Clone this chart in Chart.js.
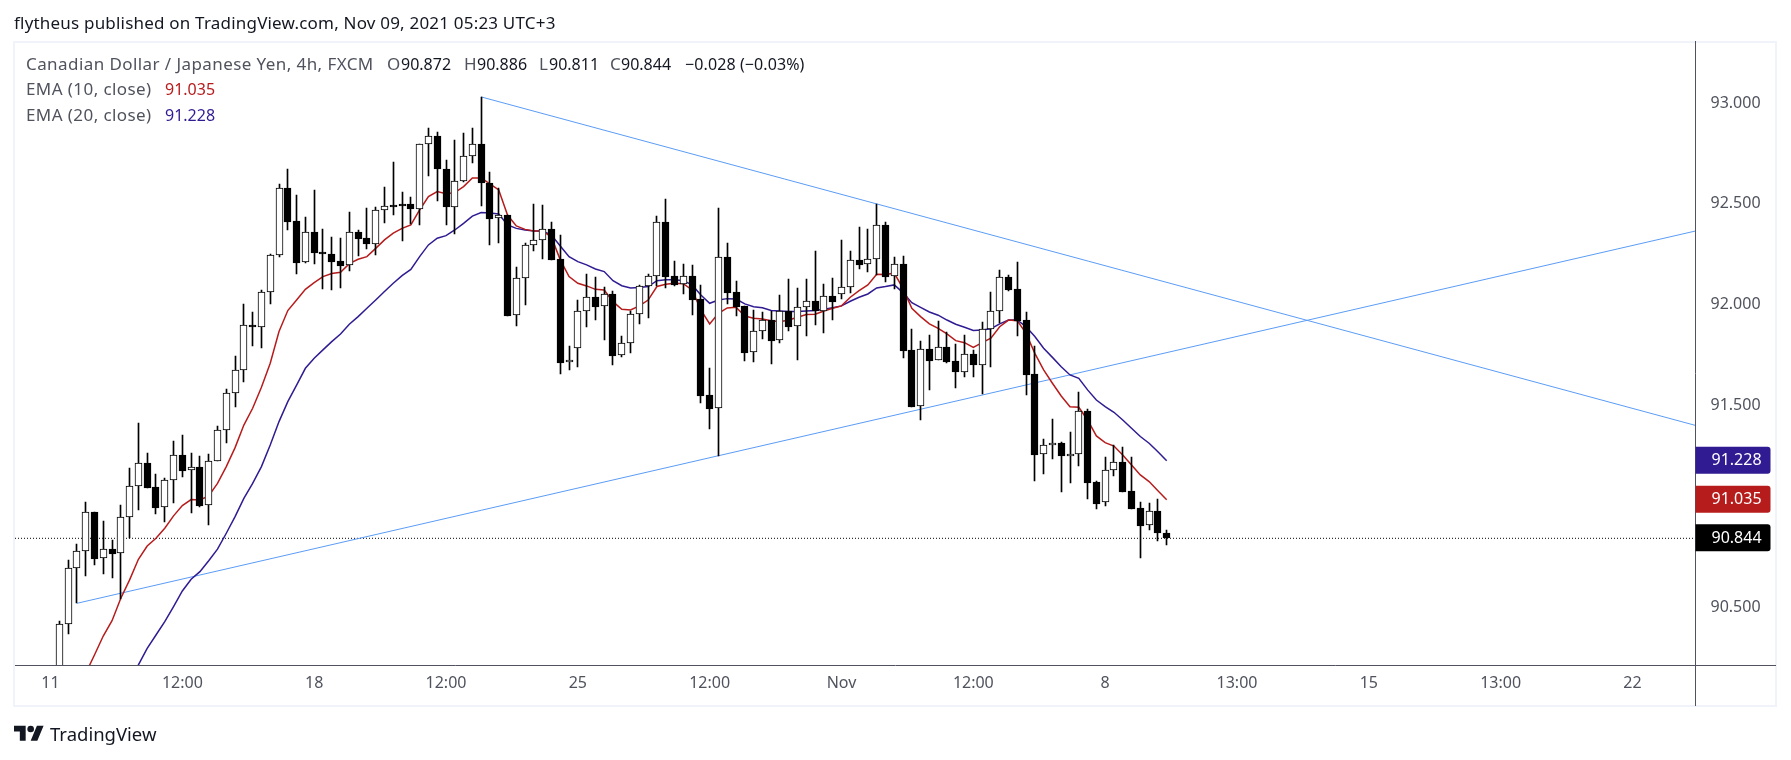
<!DOCTYPE html>
<html>
<head>
<meta charset="utf-8">
<title>CAD/JPY 4h</title>
<script src="https://cdn.jsdelivr.net/npm/chart.js"></script>
<style>
  html, body { margin:0; padding:0; background:#fff; width:1791px; height:760px; overflow:hidden; }
  body { font-family:"Noto Sans", sans-serif; color:#131722; position:relative; }
  #chart { position:absolute; left:0; top:0; }
  .txt { position:absolute; white-space:nowrap; }
  .lbl { font-size:17px; line-height:22px; letter-spacing:.42px; color:#50535e; }
  .val { font-size:16px; line-height:22px; color:#131722; }
</style>
</head>
<body>
<canvas id="chart" width="1791" height="760"></canvas>
<div class="txt" style="left:14px;top:11px;font-size:17px;line-height:24px;letter-spacing:.2px;">flytheus published on TradingView.com, Nov 09, 2021 05:23 UTC+3</div>
<div class="txt lbl" style="left:26px;top:53px;">Canadian Dollar / Japanese Yen, 4h, FXCM</div>
<div class="txt lbl" style="left:387px;top:53px;">O</div><div class="txt val" style="left:401px;top:53px;">90.872</div>
<div class="txt lbl" style="left:464px;top:53px;">H</div><div class="txt val" style="left:477px;top:53px;">90.886</div>
<div class="txt lbl" style="left:539px;top:53px;">L</div><div class="txt val" style="left:549px;top:53px;">90.811</div>
<div class="txt lbl" style="left:610px;top:53px;">C</div><div class="txt val" style="left:621px;top:53px;">90.844</div>
<div class="txt val" style="left:685px;top:53px;letter-spacing:.1px;">−0.028 (−0.03%)</div>
<div class="txt lbl" style="left:26px;top:78px;">EMA (10, close)</div><div class="txt val" style="left:165px;top:78px;color:#b71c1c;">91.035</div>
<div class="txt lbl" style="left:26px;top:104px;">EMA (20, close)</div><div class="txt val" style="left:165px;top:104px;color:#311b92;">91.228</div>
<svg class="txt" style="left:14px;top:722px;" width="30" height="24" viewBox="0 0 36 28" fill="#131722"><path d="M14 22H7V11H0V4h14v18zM28 22h-8l7.5-18h8L28 22z"/><circle cx="20" cy="8" r="4"/></svg>
<div class="txt" style="left:50px;top:720px;font-size:18.5px;line-height:28px;">TradingView</div>

<script>
// 4h candles, one entry per bar
const opens = [90.13,90.418,90.695,90.780,90.973,90.745,90.790,90.770,90.948,91.102,91.215,91.097,90.998,91.131,91.255,91.181,91.196,91.008,91.229,91.379,91.562,91.676,91.899,91.889,92.062,92.246,92.578,
  92.416,92.211,92.360,92.261,92.254,92.216,92.197,92.360,92.330,92.303,92.469,92.493,92.498,92.498,92.474,92.795,92.835,92.675,92.483,92.612,92.736,92.797,92.606,92.429,92.444,91.949,
  92.132,92.295,92.320,92.374,92.227,91.716,91.785,91.968,92.038,91.993,92.053,91.750,91.810,91.953,92.092,92.142,92.409,92.142,92.102,92.142,92.029,91.552,91.488,92.236,92.062,91.993,91.765,91.869,91.924,91.825,
  91.968,91.894,91.988,92.018,91.968,92.043,92.053,92.087,92.221,92.201,92.226,92.394,92.142,92.201,91.775,91.498,91.780,91.726,91.790,91.721,91.666,91.755,91.701,91.882,91.968,92.137,92.077,91.924,91.656,91.260,91.305,91.315,91.250,91.260,91.473,91.121,91.022,91.181,91.220,91.077,90.993,90.908,90.978,90.872];
const highs = [90.435,90.735,90.814,91.024,90.973,90.930,90.834,91.009,91.192,91.415,91.267,91.163,91.141,91.326,91.356,91.267,91.252,91.262,91.400,91.584,91.747,92.005,91.963,92.074,92.251,92.599,92.673,
  92.545,92.436,92.569,92.374,92.337,92.332,92.460,92.371,92.480,92.485,92.584,92.708,92.559,92.535,92.795,92.876,92.855,92.720,92.815,92.852,92.876,93.030,92.658,92.579,92.446,92.186,
  92.307,92.500,92.493,92.409,92.345,91.797,92.024,92.153,92.137,92.087,92.069,91.845,91.968,92.097,92.153,92.441,92.523,92.216,92.201,92.196,92.097,91.686,92.478,92.305,92.117,91.995,91.975,91.967,91.968,92.049,
  92.127,92.082,92.128,92.267,92.104,92.133,92.322,92.267,92.386,92.376,92.498,92.409,92.236,92.241,91.879,91.820,91.851,91.919,91.864,91.807,91.849,91.775,91.914,92.064,92.173,92.147,92.213,91.965,91.797,91.336,91.435,91.319,91.371,91.569,91.483,91.128,91.247,91.305,91.296,91.245,91.022,91.017,91.037,90.886];
const lows = [90.09,90.372,90.522,90.659,90.714,90.669,90.649,90.542,90.844,90.984,91.095,90.966,90.927,91.021,91.149,90.969,91.001,90.912,91.229,91.318,91.496,91.620,91.798,91.788,92.006,92.239,92.373,
  92.155,92.205,92.204,92.081,92.076,92.086,92.168,92.244,92.279,92.249,92.407,92.447,92.318,92.399,92.398,92.639,92.516,92.398,92.353,92.607,92.705,92.492,92.299,92.308,91.947,91.897,
  92.001,92.269,92.229,92.224,91.660,91.679,91.694,91.892,91.925,91.826,91.704,91.742,91.764,91.907,91.937,92.094,92.086,92.094,92.056,91.952,91.514,91.387,91.253,92.005,91.947,91.724,91.719,91.831,91.709,91.813,
  91.873,91.729,91.848,91.902,91.863,91.927,92.031,92.057,92.180,92.165,92.148,92.114,92.081,91.739,91.496,91.432,91.579,91.726,91.714,91.590,91.645,91.645,91.559,91.694,91.909,92.071,91.848,91.556,91.130,91.163,91.239,91.075,91.120,91.204,91.040,90.991,91.006,91.154,91.075,90.991,90.748,90.887,90.832,90.811];
const closes = [90.418,90.695,90.780,90.973,90.743,90.790,90.768,90.948,91.102,91.215,91.095,90.996,91.131,91.255,91.179,91.196,91.006,91.229,91.379,91.562,91.676,91.899,91.889,92.062,92.246,92.578,92.412,
  92.209,92.360,92.259,92.254,92.214,92.195,92.360,92.328,92.303,92.469,92.488,92.487,92.492,92.474,92.795,92.835,92.675,92.483,92.612,92.736,92.795,92.606,92.427,92.444,91.947,92.132,
  92.295,92.320,92.374,92.224,91.714,91.726,91.968,92.038,91.991,92.053,91.749,91.810,91.953,92.092,92.142,92.409,92.140,92.100,92.142,92.026,91.551,91.486,92.236,92.061,91.991,91.764,91.869,91.924,91.823,91.968,
  91.892,91.988,92.018,91.968,92.043,92.016,92.087,92.221,92.199,92.226,92.394,92.140,92.201,91.773,91.496,91.780,91.724,91.790,91.719,91.666,91.755,91.701,91.882,91.968,92.137,92.076,91.922,91.655,91.258,91.305,91.315,91.250,91.260,91.473,91.120,91.016,91.181,91.220,91.075,90.991,90.907,90.978,90.872,90.844];
const ema10 = [89.878,89.977,90.076,90.175,90.266,90.360,90.436,90.547,90.638,90.740,90.806,90.844,90.894,90.955,91.006,91.036,91.034,91.054,91.116,91.199,91.293,91.405,91.488,91.592,91.711,91.868,91.972,
  92.024,92.077,92.110,92.140,92.155,92.162,92.204,92.226,92.239,92.280,92.322,92.355,92.379,92.396,92.470,92.536,92.561,92.551,92.556,92.586,92.629,92.629,92.599,92.569,92.445,92.391,
  92.374,92.366,92.366,92.335,92.223,92.140,92.107,92.094,92.077,92.074,92.016,91.978,91.975,91.995,92.024,92.091,92.102,92.107,92.105,92.074,91.975,91.906,91.958,91.985,91.988,91.945,91.934,91.930,91.922,91.917,
  91.925,91.939,91.952,91.954,91.970,91.983,91.995,92.038,92.071,92.099,92.152,92.150,92.157,92.082,91.983,91.942,91.906,91.884,91.856,91.823,91.813,91.790,91.813,91.835,91.892,91.925,91.922,91.859,91.760,91.678,91.612,91.549,91.496,91.493,91.430,91.351,91.318,91.301,91.257,91.207,91.158,91.125,91.080,91.035];
const ema20 = [89.465,89.548,89.631,89.713,89.796,89.878,89.961,90.043,90.126,90.217,90.299,90.365,90.431,90.506,90.583,90.641,90.679,90.733,90.790,90.869,90.951,91.042,91.116,91.199,91.306,91.422,91.521,
  91.603,91.686,91.736,91.777,91.818,91.856,91.904,91.942,91.983,92.024,92.066,92.107,92.145,92.176,92.239,92.297,92.330,92.343,92.371,92.404,92.440,92.457,92.455,92.450,92.396,92.379,
  92.371,92.366,92.366,92.346,92.292,92.239,92.214,92.198,92.178,92.165,92.120,92.095,92.084,92.086,92.091,92.120,92.124,92.124,92.120,92.099,92.049,92.008,92.024,92.031,92.029,92.005,91.991,91.986,91.972,91.970,
  91.967,91.967,91.970,91.972,91.978,91.986,91.995,92.018,92.038,92.054,92.084,92.091,92.099,92.061,92.011,91.988,91.965,91.949,91.925,91.904,91.889,91.873,91.876,91.882,91.906,91.925,91.925,91.892,91.843,91.785,91.740,91.694,91.653,91.636,91.579,91.529,91.496,91.468,91.430,91.389,91.348,91.315,91.273,91.228];

// hand drawn trend lines: [start bar, end bar] and prices
const trendDownBars = [48, 186.17];
const trendDownPrices = [93.03, 91.403];
const trendUpBars = [2, 186.17];
const trendUpPrices = [90.522, 92.366];

const timeTickBars = [-1,14,29,44,59,74,89,104,119,134,149,164,179];
const timeTickLabels = ['11','12:00','18','12:00','25','12:00','Nov','12:00','8','13:00','15','13:00','22'];
const priceTicks = [90.5,91.5,92,92.5,93];
const lastPrices = [91.228,91.035,90.844];
const lastPriceColors = ['#311b92','#b71c1c','#000000'];

const X_MIN = -5.04, X_MAX = 186.17;
const AXIS_COLOR = '#50535e';
const TICK_FONT = { family:'"Noto Sans", sans-serif', size:16 };

// frame, long axis lines and the coloured price tags
const chromePlugin = {
  id: 'chrome',
  beforeDraw(chart) {
    const c = chart.ctx;
    c.save();
    c.strokeStyle = '#f0f3fa';
    c.lineWidth = 2;
    c.strokeRect(14, 42, 1762, 664);
    c.restore();
  },
  // snap candles to whole pixels so wicks stay crisp
  afterDatasetsUpdate(chart) {
    [0, 1].forEach(function(d) {
      chart.getDatasetMeta(d).data.forEach(function(el) {
        el.x = Math.floor(el.x) + .5;
        el.y = Math.round(el.y);
        el.base = Math.round(el.base);
      });
    });
  },
  afterDraw(chart) {
    const c = chart.ctx, a = chart.chartArea, y = chart.scales.y;
    const right = Math.floor(a.right) + .5, bottom = Math.floor(a.bottom) + .5;
    c.save();
    c.strokeStyle = AXIS_COLOR;
    c.lineWidth = 1;
    c.beginPath();
    c.moveTo(right, 41); c.lineTo(right, 706);
    c.moveTo(15, bottom); c.lineTo(1776, bottom);
    c.stroke();
    c.font = '16px "Noto Sans", sans-serif';
    c.textBaseline = 'middle';
    c.textAlign = 'left';
    lastPrices.forEach(function(p, i) {
      const py = y.getPixelForValue(p);
      c.fillStyle = lastPriceColors[i];
      c.beginPath();
      c.roundRect(right, py - 14, 75, 27, [0, 3, 3, 0]);
      c.fill();
      c.fillStyle = '#fff';
      c.fillText(p.toFixed(3), right + 16, py);
    });
    c.restore();
  }
};

const barIndex = closes.map(function(_, i) { return i; });

new Chart(document.getElementById('chart'), {
  type: 'bar',
  data: {
    datasets: [
      { label:'body', order:0, grouped:false, barThickness:7, borderWidth:1, borderColor:'#000', borderSkipped:false,
        backgroundColor: closes.map(function(c, i) { return c >= opens[i] ? '#fff' : '#000'; }),
        data: barIndex.map(function(i) { return { x:i, y:[opens[i], closes[i]] }; }) },
      { label:'wick', order:1, grouped:false, barThickness:1, backgroundColor:'#000', borderWidth:0,
        data: barIndex.map(function(i) { return { x:i, y:[lows[i], highs[i]] }; }) },
      { type:'line', label:'EMA 10', order:2, borderColor:'#b71c1c', borderWidth:1.5, pointRadius:0,
        data: barIndex.map(function(i) { return { x:i, y:ema10[i] }; }) },
      { type:'line', label:'EMA 20', order:3, borderColor:'#311b92', borderWidth:1.5, pointRadius:0,
        data: barIndex.map(function(i) { return { x:i, y:ema20[i] }; }) },
      { type:'line', label:'trend down', order:4, borderColor:'#5b9cf6', borderWidth:1, pointRadius:0,
        data: trendDownBars.map(function(b, i) { return { x:b, y:trendDownPrices[i] }; }) },
      { type:'line', label:'trend up', order:5, borderColor:'#5b9cf6', borderWidth:1, pointRadius:0,
        data: trendUpBars.map(function(b, i) { return { x:b, y:trendUpPrices[i] }; }) },
      { type:'line', label:'last', order:6, borderColor:'#000', borderWidth:1, borderDash:[1,2], pointRadius:0,
        data: [{ x:X_MIN, y:lastPrices[2] }, { x:X_MAX, y:lastPrices[2] }] }
    ]
  },
  options: {
    responsive: false,
    animation: false,
    layout: { padding: { left:15, top:42, right:15.5, bottom:54 } },
    plugins: { legend:{ display:false }, tooltip:{ enabled:false } },
    scales: {
      x: {
        type:'linear', min:X_MIN, max:X_MAX, offset:false,
        grid:{ display:false, drawTicks:false },
        border:{ display:false },
        afterBuildTicks: function(s) { s.ticks = timeTickBars.map(function(v) { return { value:v }; }); },
        afterFit: function(s) { s.height = 41; },
        ticks:{ autoSkip:false, maxRotation:0, color:AXIS_COLOR, font:TICK_FONT, padding:9,
          callback: function(v, i) { return timeTickLabels[i]; } }
      },
      y: {
        position:'right', min:90.2165, max:93.302,
        grid:{ display:false, drawTicks:false },
        border:{ display:false },
        afterBuildTicks: function(s) { s.ticks = priceTicks.map(function(v) { return { value:v }; }); },
        afterFit: function(s) { s.width = 80; },
        ticks:{ color:AXIS_COLOR, font:TICK_FONT, padding:15,
          callback: function(v) { return v.toFixed(3); } }
      }
    }
  },
  plugins: [chromePlugin]
});
</script>
</body>
</html>
